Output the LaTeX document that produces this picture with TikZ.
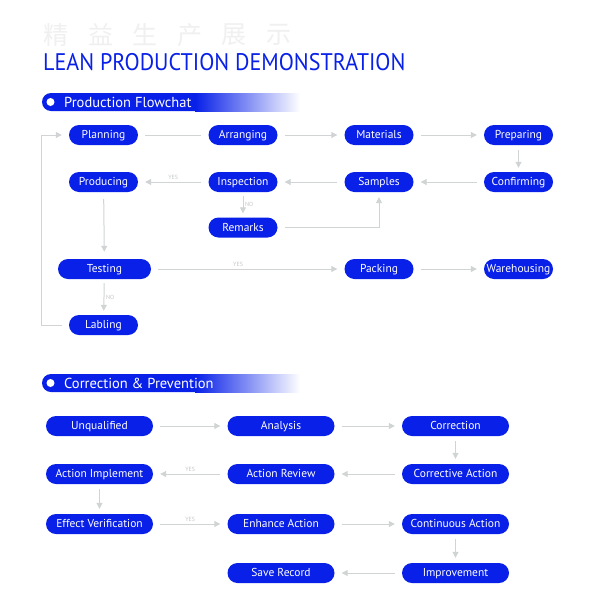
\documentclass[tikz,border=0pt]{standalone}
\usepackage{fontspec}
\setmainfont{PT Sans}
\newfontfamily\cjkfont{Noto Sans CJK SC}
\usetikzlibrary{arrows.meta}
\definecolor{leanblue}{RGB}{8,32,232}
\definecolor{flowgray}{RGB}{208,212,212}
\definecolor{notegray}{RGB}{196,200,200}
\definecolor{cjkgray}{RGB}{240,240,240}
\def\boxheight{20pt}
\tikzset{procbox/.style={rectangle, rounded corners=10pt, fill=leanblue, text=white,
    minimum height=\boxheight, minimum width=#1, inner sep=0pt,
    text height=8.2pt, text depth=1pt,
    font=\fontsize{11.5}{11.5}\selectfont},
  procbox/.default=69pt}
\tikzset{flow/.style={draw=flowgray, line width=1pt, -{Triangle[width=6pt,length=6pt]},
    shorten <=7pt, shorten >=7pt}}
\tikzset{plain flow/.style={flow, -}}
\tikzset{note/.style={text=notegray, font=\fontsize{6}{6}\selectfont, inner sep=1.5pt}}
\tikzset{bartext/.style={anchor=west, text=white, inner sep=0pt,
    font=\fontsize{14.5}{14.5}\selectfont}}
\tikzset{bardot/.style={circle, fill=white, minimum size=8pt, inner sep=0pt}}
\newcommand\sectionbar[4]{%% y, dot name, text name, text
  \fill[leanblue, rounded corners=9pt] (42,#1-9) rectangle (210,#1+9);
  \shade[left color=leanblue, right color=white] (195,#1-9) rectangle (300,#1+9);
  \node[bardot] (#2) at (50.5,#1) {};
  \node[bartext] (#3) at (64,#1) {#4};
}

\begin{document}
\begin{tikzpicture}[x=1pt, y=-1pt]

\path[use as bounding box, fill=white] (0,0) rectangle (600,600);

%% headings
\foreach \ch [count=\i] in {精,益,生,产,展,示}
  \node[text=cjkgray, font=\cjkfont\fontsize{25}{25}\selectfont, inner sep=0pt] (cn\i) at (56+44.5*\i-44.5,35) {\ch};
\node[anchor=base west, text=leanblue, inner sep=0pt, font=\fontsize{24}{24}\selectfont] (title) at (43,70) {\scalebox{0.92}[1]{LEAN PRODUCTION DEMONSTRATION}};

%% production flowchart
\sectionbar{102}{dotA}{flowtitle}{Production Flowchat}

\node[procbox] (planning) at (103.5,135) {Planning};
\node[procbox] (arranging) at (243,135) {Arranging};
\node[procbox] (materials) at (379,135) {Materials};
\node[procbox] (preparing) at (518.5,135) {Preparing};
\node[procbox] (producing) at (103.5,182) {Producing};
\node[procbox] (inspection) at (243,182) {Inspection};
\node[procbox] (samples) at (379,182) {Samples};
\node[procbox] (confirming) at (518.5,182) {Confirming};
\node[procbox] (remarks) at (243,227.5) {Remarks};
\node[procbox=93pt] (testing) at (104.5,269) {Testing};
\node[procbox] (packing) at (379,269) {Packing};
\node[procbox] (warehousing) at (518.5,269) {Warehousing};
\node[procbox] (labling) at (103.5,325) {Labling};
\coordinate (loopx) at (41,0);

\draw[plain flow] (planning) -- (arranging);
\draw[flow] (arranging) -- (materials);
\draw[flow] (materials) -- (preparing);
\draw[flow, shorten <=5pt, shorten >=4pt] (preparing) -- (confirming);
\draw[flow] (confirming) -- (samples);
\draw[flow] (samples) -- (inspection);
\draw[flow] (inspection) -- node[note, above] {YES} (producing);
\draw[flow, shorten <=4pt, shorten >=4pt] (inspection) -- node[note, right] {NO} (remarks);
\draw[flow, shorten >=5pt] (remarks) -| (samples);
\draw[flow] (producing) -- (testing);
\draw[flow] (testing) -- node[note, above, pos=0.45] {YES} (packing);
\draw[flow] (packing) -- (warehousing);
\draw[flow, shorten <=4pt, shorten >=4pt] (testing) -- node[note, right] {NO} (labling);
\draw[flow] (labling) -- (labling -| loopx) |- (planning);

%% correction and prevention
\sectionbar{383}{dotB}{cortitle}{Correction \& Prevention}

\node[procbox=107pt] (unqualified) at (99.5,426) {Unqualified};
\node[procbox=107pt] (analysis) at (281,426) {Analysis};
\node[procbox=107pt] (correction) at (455.5,426) {Correction};
\node[procbox=107pt] (implement) at (99.5,474) {Action Implement};
\node[procbox=107pt] (review) at (281,474) {Action Review};
\node[procbox=107pt] (corrective) at (455.5,474) {Corrective Action};
\node[procbox=107pt] (verification) at (99.5,524) {Effect Verification};
\node[procbox=107pt] (enhance) at (281,524) {Enhance Action};
\node[procbox=107pt] (continuous) at (455.5,524) {Continuous Action};
\node[procbox=107pt] (saverecord) at (281,573) {Save Record};
\node[procbox=107pt] (improvement) at (455.5,573) {Improvement};

\draw[flow] (unqualified) -- (analysis);
\draw[flow] (analysis) -- (correction);
\draw[flow, shorten <=5pt, shorten >=5pt] (correction) -- (corrective);
\draw[flow] (corrective) -- (review);
\draw[flow] (review) -- node[note, above] {YES} (implement);
\draw[flow, shorten <=5pt, shorten >=5pt] (implement) -- (verification);
\draw[flow] (verification) -- node[note, above] {YES} (enhance);
\draw[flow] (enhance) -- (continuous);
\draw[flow, shorten <=5pt, shorten >=5pt] (continuous) -- (improvement);
\draw[flow] (improvement) -- (saverecord);

\end{tikzpicture}
\end{document}
